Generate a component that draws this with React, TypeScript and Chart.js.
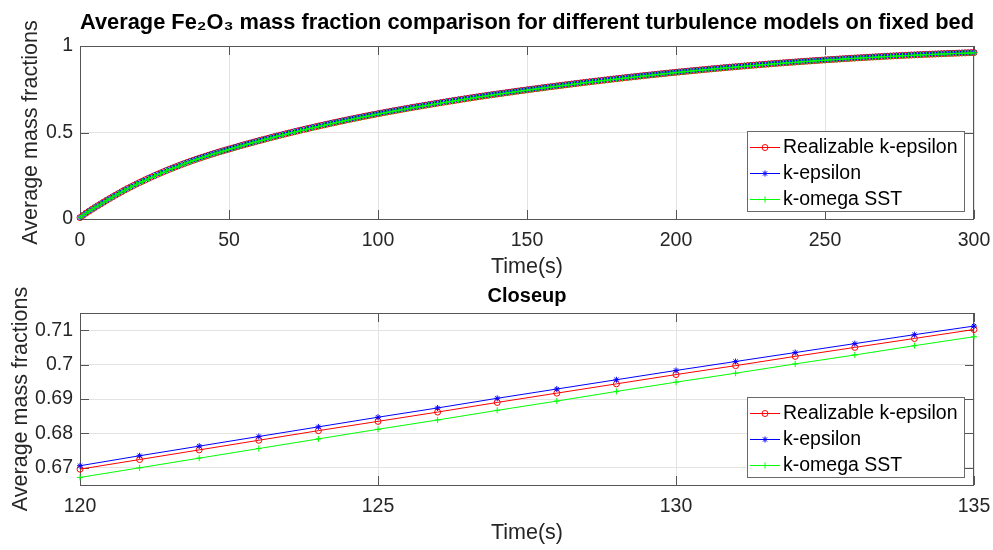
import React, { useEffect, useRef } from "react";
import { Chart, registerables } from "chart.js";

Chart.register(...registerables);

// ---------------- DATA ----------------
const TIME = [
  0, 1, 2, 3, 4, 5, 6, 7, 8, 9,
  10, 11, 12, 13, 14, 15, 16, 17, 18, 19,
  20, 21, 22, 23, 24, 25, 26, 27, 28, 29,
  30, 31, 32, 33, 34, 35, 36, 37, 38, 39,
  40, 41, 42, 43, 44, 45, 46, 47, 48, 49,
  50, 51, 52, 53, 54, 55, 56, 57, 58, 59,
  60, 61, 62, 63, 64, 65, 66, 67, 68, 69,
  70, 71, 72, 73, 74, 75, 76, 77, 78, 79,
  80, 81, 82, 83, 84, 85, 86, 87, 88, 89,
  90, 91, 92, 93, 94, 95, 96, 97, 98, 99,
  100, 101, 102, 103, 104, 105, 106, 107, 108, 109,
  110, 111, 112, 113, 114, 115, 116, 117, 118, 119,
  120, 121, 122, 123, 124, 125, 126, 127, 128, 129,
  130, 131, 132, 133, 134, 135, 136, 137, 138, 139,
  140, 141, 142, 143, 144, 145, 146, 147, 148, 149,
  150, 151, 152, 153, 154, 155, 156, 157, 158, 159,
  160, 161, 162, 163, 164, 165, 166, 167, 168, 169,
  170, 171, 172, 173, 174, 175, 176, 177, 178, 179,
  180, 181, 182, 183, 184, 185, 186, 187, 188, 189,
  190, 191, 192, 193, 194, 195, 196, 197, 198, 199,
  200, 201, 202, 203, 204, 205, 206, 207, 208, 209,
  210, 211, 212, 213, 214, 215, 216, 217, 218, 219,
  220, 221, 222, 223, 224, 225, 226, 227, 228, 229,
  230, 231, 232, 233, 234, 235, 236, 237, 238, 239,
  240, 241, 242, 243, 244, 245, 246, 247, 248, 249,
  250, 251, 252, 253, 254, 255, 256, 257, 258, 259,
  260, 261, 262, 263, 264, 265, 266, 267, 268, 269,
  270, 271, 272, 273, 274, 275, 276, 277, 278, 279,
  280, 281, 282, 283, 284, 285, 286, 287, 288, 289,
  290, 291, 292, 293, 294, 295, 296, 297, 298, 299,
  300,
];

const REALIZABLE_KE = [
  0.0080, 0.0212, 0.0335, 0.0450, 0.0560, 0.0667, 0.0772, 0.0878, 0.0983, 0.1087,
  0.1189, 0.1289, 0.1387, 0.1484, 0.1580, 0.1674, 0.1765, 0.1854, 0.1941, 0.2026,
  0.2109, 0.2189, 0.2270, 0.2350, 0.2429, 0.2507, 0.2583, 0.2657, 0.2730, 0.2802,
  0.2872, 0.2941, 0.3009, 0.3076, 0.3142, 0.3207, 0.3270, 0.3332, 0.3393, 0.3453,
  0.3512, 0.3569, 0.3625, 0.3680, 0.3734, 0.3787, 0.3839, 0.3891, 0.3942, 0.3992,
  0.4042, 0.4092, 0.4142, 0.4191, 0.4240, 0.4289, 0.4337, 0.4384, 0.4431, 0.4478,
  0.4525, 0.4569, 0.4614, 0.4659, 0.4704, 0.4749, 0.4793, 0.4836, 0.4879, 0.4922,
  0.4965, 0.5007, 0.5049, 0.5090, 0.5131, 0.5172, 0.5212, 0.5252, 0.5292, 0.5331,
  0.5370, 0.5408, 0.5446, 0.5484, 0.5522, 0.5560, 0.5597, 0.5634, 0.5671, 0.5707,
  0.5743, 0.5778, 0.5813, 0.5848, 0.5883, 0.5918, 0.5952, 0.5986, 0.6020, 0.6053,
  0.6086, 0.6119, 0.6151, 0.6183, 0.6215, 0.6247, 0.6278, 0.6309, 0.6340, 0.6371,
  0.6402, 0.6432, 0.6462, 0.6492, 0.6522, 0.6551, 0.6580, 0.6609, 0.6638, 0.6667,
  0.6696, 0.6724, 0.6752, 0.6780, 0.6808, 0.6835, 0.6862, 0.6890, 0.6917, 0.6944,
  0.6971, 0.6997, 0.7024, 0.7050, 0.7076, 0.7102, 0.7127, 0.7152, 0.7177, 0.7202,
  0.7226, 0.7251, 0.7275, 0.7299, 0.7323, 0.7347, 0.7371, 0.7395, 0.7419, 0.7442,
  0.7465, 0.7488, 0.7511, 0.7534, 0.7557, 0.7580, 0.7603, 0.7626, 0.7648, 0.7670,
  0.7692, 0.7714, 0.7736, 0.7758, 0.7780, 0.7801, 0.7823, 0.7844, 0.7865, 0.7886,
  0.7907, 0.7928, 0.7949, 0.7970, 0.7990, 0.8010, 0.8030, 0.8050, 0.8070, 0.8090,
  0.8110, 0.8130, 0.8150, 0.8169, 0.8188, 0.8207, 0.8226, 0.8245, 0.8264, 0.8283,
  0.8301, 0.8320, 0.8338, 0.8356, 0.8374, 0.8392, 0.8410, 0.8428, 0.8446, 0.8463,
  0.8480, 0.8497, 0.8514, 0.8531, 0.8548, 0.8565, 0.8582, 0.8599, 0.8615, 0.8631,
  0.8647, 0.8663, 0.8679, 0.8695, 0.8711, 0.8726, 0.8742, 0.8757, 0.8772, 0.8787,
  0.8802, 0.8817, 0.8832, 0.8847, 0.8861, 0.8875, 0.8889, 0.8903, 0.8917, 0.8931,
  0.8945, 0.8959, 0.8973, 0.8986, 0.8999, 0.9012, 0.9025, 0.9038, 0.9051, 0.9064,
  0.9076, 0.9089, 0.9101, 0.9113, 0.9125, 0.9137, 0.9149, 0.9161, 0.9173, 0.9184,
  0.9195, 0.9207, 0.9218, 0.9229, 0.9240, 0.9251, 0.9262, 0.9273, 0.9284, 0.9294,
  0.9304, 0.9314, 0.9324, 0.9334, 0.9344, 0.9354, 0.9364, 0.9374, 0.9383, 0.9392,
  0.9401, 0.9410, 0.9419, 0.9428, 0.9437, 0.9445, 0.9454, 0.9462, 0.9470, 0.9478,
  0.9486, 0.9494, 0.9502, 0.9510, 0.9517, 0.9524, 0.9531, 0.9538, 0.9545, 0.9552,
  0.9559, 0.9566, 0.9573, 0.9579, 0.9585, 0.9591, 0.9597, 0.9603, 0.9609, 0.9615,
  0.9620,
];

const K_EPSILON = [
  0.0080, 0.0215, 0.0338, 0.0453, 0.0563, 0.0670, 0.0778, 0.0884, 0.0989, 0.1093,
  0.1195, 0.1295, 0.1393, 0.1490, 0.1586, 0.1680, 0.1771, 0.1860, 0.1947, 0.2032,
  0.2115, 0.2197, 0.2278, 0.2358, 0.2437, 0.2515, 0.2591, 0.2665, 0.2738, 0.2810,
  0.2880, 0.2949, 0.3017, 0.3084, 0.3150, 0.3215, 0.3278, 0.3340, 0.3401, 0.3461,
  0.3520, 0.3577, 0.3633, 0.3688, 0.3742, 0.3795, 0.3847, 0.3899, 0.3950, 0.4000,
  0.4050, 0.4100, 0.4150, 0.4199, 0.4248, 0.4297, 0.4345, 0.4392, 0.4439, 0.4486,
  0.4533, 0.4579, 0.4624, 0.4669, 0.4714, 0.4759, 0.4803, 0.4846, 0.4889, 0.4932,
  0.4975, 0.5017, 0.5059, 0.5100, 0.5141, 0.5182, 0.5222, 0.5262, 0.5302, 0.5341,
  0.5380, 0.5418, 0.5456, 0.5494, 0.5532, 0.5570, 0.5607, 0.5644, 0.5681, 0.5717,
  0.5753, 0.5788, 0.5823, 0.5858, 0.5893, 0.5928, 0.5962, 0.5996, 0.6030, 0.6063,
  0.6096, 0.6129, 0.6161, 0.6193, 0.6225, 0.6257, 0.6288, 0.6319, 0.6350, 0.6381,
  0.6412, 0.6442, 0.6472, 0.6502, 0.6532, 0.6561, 0.6590, 0.6619, 0.6648, 0.6677,
  0.6706, 0.6735, 0.6763, 0.6791, 0.6819, 0.6847, 0.6874, 0.6902, 0.6929, 0.6956,
  0.6983, 0.7009, 0.7035, 0.7061, 0.7087, 0.7112, 0.7137, 0.7162, 0.7187, 0.7212,
  0.7236, 0.7261, 0.7285, 0.7309, 0.7333, 0.7357, 0.7381, 0.7405, 0.7429, 0.7452,
  0.7475, 0.7498, 0.7521, 0.7544, 0.7567, 0.7590, 0.7613, 0.7636, 0.7658, 0.7680,
  0.7702, 0.7724, 0.7746, 0.7768, 0.7790, 0.7811, 0.7833, 0.7854, 0.7875, 0.7896,
  0.7917, 0.7938, 0.7959, 0.7980, 0.8000, 0.8020, 0.8040, 0.8060, 0.8080, 0.8100,
  0.8120, 0.8140, 0.8160, 0.8179, 0.8198, 0.8217, 0.8236, 0.8255, 0.8274, 0.8293,
  0.8311, 0.8330, 0.8348, 0.8366, 0.8384, 0.8402, 0.8420, 0.8438, 0.8456, 0.8473,
  0.8490, 0.8507, 0.8524, 0.8541, 0.8558, 0.8575, 0.8592, 0.8609, 0.8625, 0.8641,
  0.8657, 0.8673, 0.8689, 0.8705, 0.8721, 0.8736, 0.8752, 0.8767, 0.8782, 0.8797,
  0.8812, 0.8827, 0.8842, 0.8857, 0.8871, 0.8885, 0.8899, 0.8913, 0.8927, 0.8941,
  0.8955, 0.8969, 0.8983, 0.8996, 0.9009, 0.9022, 0.9035, 0.9048, 0.9061, 0.9074,
  0.9086, 0.9099, 0.9111, 0.9123, 0.9135, 0.9147, 0.9159, 0.9171, 0.9183, 0.9194,
  0.9205, 0.9217, 0.9228, 0.9239, 0.9250, 0.9261, 0.9272, 0.9283, 0.9294, 0.9304,
  0.9314, 0.9324, 0.9334, 0.9344, 0.9354, 0.9364, 0.9374, 0.9384, 0.9393, 0.9402,
  0.9411, 0.9420, 0.9429, 0.9438, 0.9447, 0.9455, 0.9464, 0.9472, 0.9480, 0.9488,
  0.9496, 0.9504, 0.9512, 0.9520, 0.9527, 0.9534, 0.9541, 0.9548, 0.9555, 0.9562,
  0.9569, 0.9576, 0.9583, 0.9589, 0.9595, 0.9601, 0.9607, 0.9613, 0.9619, 0.9625,
  0.9630,
];

const K_OMEGA_SST = [
  0.0080, 0.0205, 0.0328, 0.0443, 0.0553, 0.0660, 0.0758, 0.0864, 0.0969, 0.1073,
  0.1175, 0.1275, 0.1373, 0.1470, 0.1566, 0.1660, 0.1751, 0.1840, 0.1927, 0.2012,
  0.2095, 0.2169, 0.2250, 0.2330, 0.2409, 0.2487, 0.2563, 0.2637, 0.2710, 0.2782,
  0.2852, 0.2921, 0.2989, 0.3056, 0.3122, 0.3187, 0.3250, 0.3312, 0.3373, 0.3433,
  0.3492, 0.3549, 0.3605, 0.3660, 0.3714, 0.3767, 0.3819, 0.3871, 0.3922, 0.3972,
  0.4022, 0.4072, 0.4122, 0.4171, 0.4220, 0.4269, 0.4317, 0.4364, 0.4411, 0.4458,
  0.4505, 0.4546, 0.4591, 0.4636, 0.4681, 0.4726, 0.4770, 0.4813, 0.4856, 0.4899,
  0.4942, 0.4984, 0.5026, 0.5067, 0.5108, 0.5149, 0.5189, 0.5229, 0.5269, 0.5308,
  0.5347, 0.5385, 0.5423, 0.5461, 0.5499, 0.5537, 0.5574, 0.5611, 0.5648, 0.5684,
  0.5720, 0.5755, 0.5790, 0.5825, 0.5860, 0.5895, 0.5929, 0.5963, 0.5997, 0.6030,
  0.6063, 0.6096, 0.6128, 0.6160, 0.6192, 0.6224, 0.6255, 0.6286, 0.6317, 0.6348,
  0.6379, 0.6409, 0.6439, 0.6469, 0.6499, 0.6528, 0.6557, 0.6586, 0.6615, 0.6644,
  0.6672, 0.6700, 0.6728, 0.6756, 0.6784, 0.6812, 0.6839, 0.6867, 0.6894, 0.6922,
  0.6949, 0.6975, 0.7002, 0.7028, 0.7055, 0.7081, 0.7106, 0.7131, 0.7156, 0.7181,
  0.7205, 0.7230, 0.7254, 0.7278, 0.7302, 0.7326, 0.7350, 0.7374, 0.7398, 0.7421,
  0.7445, 0.7468, 0.7491, 0.7514, 0.7537, 0.7560, 0.7583, 0.7606, 0.7628, 0.7650,
  0.7672, 0.7694, 0.7716, 0.7738, 0.7760, 0.7781, 0.7803, 0.7824, 0.7845, 0.7866,
  0.7887, 0.7908, 0.7929, 0.7950, 0.7970, 0.7990, 0.8010, 0.8030, 0.8050, 0.8070,
  0.8090, 0.8110, 0.8130, 0.8149, 0.8168, 0.8187, 0.8206, 0.8225, 0.8244, 0.8263,
  0.8281, 0.8300, 0.8318, 0.8336, 0.8354, 0.8372, 0.8390, 0.8408, 0.8426, 0.8443,
  0.8460, 0.8480, 0.8497, 0.8514, 0.8531, 0.8548, 0.8565, 0.8582, 0.8598, 0.8614,
  0.8630, 0.8646, 0.8662, 0.8678, 0.8694, 0.8709, 0.8725, 0.8740, 0.8755, 0.8770,
  0.8785, 0.8800, 0.8815, 0.8830, 0.8844, 0.8858, 0.8872, 0.8886, 0.8900, 0.8914,
  0.8928, 0.8942, 0.8956, 0.8969, 0.8982, 0.8995, 0.9008, 0.9021, 0.9034, 0.9047,
  0.9059, 0.9072, 0.9084, 0.9096, 0.9108, 0.9120, 0.9132, 0.9144, 0.9156, 0.9167,
  0.9178, 0.9190, 0.9201, 0.9212, 0.9223, 0.9234, 0.9245, 0.9256, 0.9267, 0.9277,
  0.9287, 0.9297, 0.9307, 0.9317, 0.9327, 0.9337, 0.9347, 0.9357, 0.9366, 0.9375,
  0.9384, 0.9393, 0.9402, 0.9411, 0.9420, 0.9428, 0.9437, 0.9445, 0.9453, 0.9461,
  0.9469, 0.9477, 0.9485, 0.9493, 0.9500, 0.9507, 0.9514, 0.9521, 0.9528, 0.9535,
  0.9542, 0.9549, 0.9556, 0.9562, 0.9568, 0.9574, 0.9580, 0.9586, 0.9592, 0.9598,
  0.9603,
];

const SERIES_LABELS = ["Realizable k-epsilon", "k-epsilon", "k-omega SST"];

const TOP_X_TICKS = [0, 50, 100, 150, 200, 250, 300];
const TOP_X_LABELS = ["0", "50", "100", "150", "200", "250", "300"];
const TOP_Y_TICKS = [0, 0.5, 1];
const TOP_Y_LABELS = ["0", "0.5", "1"];

const CLOSE_X_TICKS = [120, 125, 130, 135];
const CLOSE_X_LABELS = ["120", "125", "130", "135"];
const CLOSE_Y_TICKS = [0.67, 0.68, 0.69, 0.7, 0.71];
const CLOSE_Y_LABELS = ["0.67", "0.68", "0.69", "0.7", "0.71"];

const TOP_TITLE = "Average Fe\u2082O\u2083 mass fraction comparison for different turbulence models on fixed bed";
const CLOSE_TITLE = "Closeup";
const X_TITLE = "Time(s)";
const Y_TITLE = "Average mass fractions";

// ---------------- STYLE ----------------
const FONT = "'Liberation Sans', Arial, Helvetica, sans-serif";
const TEXT_COLOR = "#262626";
const AXIS_COLOR = "#555555";
const GRID_COLOR = "#e3e3e3";
const TICK_LEN = 9;
const COLORS = ["#ff0000", "#0000ff", "#00ff00"];
const STYLES = ["circle", "star", "cross"];
const ORDERS = [2, 1, 0];

function drawMarker(ctx: CanvasRenderingContext2D, style: string, x: number, y: number, r: number, color: string) {
  ctx.save();
  ctx.strokeStyle = color;
  ctx.lineWidth = 1;
  ctx.beginPath();
  if (style === "circle") {
    ctx.arc(x, y, r, 0, Math.PI * 2);
  } else if (style === "cross") {
    ctx.moveTo(x - r, y);
    ctx.lineTo(x + r, y);
    ctx.moveTo(x, y - r);
    ctx.lineTo(x, y + r);
  } else {
    const d = r * Math.SQRT1_2;
    ctx.moveTo(x - r, y);
    ctx.lineTo(x + r, y);
    ctx.moveTo(x, y - r);
    ctx.lineTo(x, y + r);
    ctx.moveTo(x - d, y - d);
    ctx.lineTo(x + d, y + d);
    ctx.moveTo(x - d, y + d);
    ctx.lineTo(x + d, y - d);
  }
  ctx.stroke();
  ctx.restore();
}

const matlabAxes = {
  id: "matlabAxes",
  beforeDatasetsDraw(chart: any) {
    const { ctx, chartArea } = chart;
    const { left, right, top, bottom } = chartArea;
    const xs = chart.scales.x;
    const ys = chart.scales.y;
    ctx.save();
    ctx.strokeStyle = AXIS_COLOR;
    ctx.lineWidth = 1;
    ctx.beginPath();
    for (const t of xs.ticks) {
      const px = Math.round(xs.getPixelForValue(t.value)) + 0.5;
      ctx.moveTo(px, bottom);
      ctx.lineTo(px, bottom - TICK_LEN);
      ctx.moveTo(px, top);
      ctx.lineTo(px, top + TICK_LEN);
    }
    for (const t of ys.ticks) {
      const py = Math.round(ys.getPixelForValue(t.value)) + 0.5;
      ctx.moveTo(left, py);
      ctx.lineTo(left + TICK_LEN, py);
      ctx.moveTo(right, py);
      ctx.lineTo(right - TICK_LEN, py);
    }
    ctx.stroke();
    ctx.strokeRect(Math.round(left) + 0.5, Math.round(top) + 0.5, Math.round(right - left) - 1, Math.round(bottom - top));
    ctx.restore();
  },
  afterDraw(chart: any) {
    const { ctx, chartArea } = chart;
    const w = 217;
    const h = 80;
    const bx = Math.round(chartArea.right - 10 - w);
    const by = Math.round(chartArea.bottom - 8 - h);
    ctx.save();
    ctx.fillStyle = "#ffffff";
    ctx.fillRect(bx, by, w, h);
    ctx.strokeStyle = "#6a6a6a";
    ctx.lineWidth = 1;
    ctx.strokeRect(bx + 0.5, by + 0.5, w, h);
    ctx.font = `19.5px ${FONT}`;
    ctx.textBaseline = "middle";
    ctx.textAlign = "left";
    chart.data.datasets.forEach((ds: any, i: number) => {
      const cy = by + 16 + i * 26;
      ctx.strokeStyle = ds.borderColor;
      ctx.lineWidth = 1;
      ctx.beginPath();
      ctx.moveTo(bx + 3, cy + 0.5);
      ctx.lineTo(bx + 33, cy + 0.5);
      ctx.stroke();
      drawMarker(ctx, ds.pointStyle, bx + 18, cy + 0.5, 3, ds.borderColor);
      ctx.fillStyle = "#000000";
      ctx.fillText(ds.label, bx + 36, cy + 1);
    });
    ctx.restore();
  },
};

function makeDatasets(xmin: number, xmax: number) {
  const series = [REALIZABLE_KE, K_EPSILON, K_OMEGA_SST];
  return series.map((vals, i) => ({
    label: SERIES_LABELS[i],
    data: TIME.map((t, j) => ({ x: t, y: vals[j] })).filter((p) => p.x >= xmin && p.x <= xmax),
    borderColor: COLORS[i],
    backgroundColor: "rgba(0,0,0,0)",
    pointBackgroundColor: "rgba(0,0,0,0)",
    pointBorderColor: COLORS[i],
    pointStyle: STYLES[i],
    pointRadius: 3,
    pointBorderWidth: 1,
    borderWidth: 1,
    tension: 0,
    order: ORDERS[i],
    clip: false as any,
  }));
}

function makeConfig(opts: {
  title: string;
  titleSize: number;
  titlePadBottom: number;
  padTop: number;
  xmin: number;
  xmax: number;
  ymin: number;
  ymax: number;
  xTicks: number[];
  xLabels: string[];
  yTicks: number[];
  yLabels: string[];
  xAxisHeight: number;
  xTitlePadBottom: number;
  yTitlePadTop: number;
}): any {
  return {
    type: "line",
    data: { datasets: makeDatasets(opts.xmin, opts.xmax) },
    options: {
      animation: false,
      responsive: false,
      devicePixelRatio: 1,
      events: [],
      layout: { padding: { left: 8, right: 19, top: opts.padTop, bottom: 0 } },
      plugins: {
        legend: { display: false },
        tooltip: { enabled: false },
        title: {
          display: true,
          fullSize: false,
          text: opts.title,
          color: "#000000",
          font: { family: FONT, size: opts.titleSize, weight: "bold", lineHeight: 1.2 },
          padding: { top: 0, bottom: opts.titlePadBottom },
        },
      },
      scales: {
        x: {
          type: "linear",
          min: opts.xmin,
          max: opts.xmax,
          afterBuildTicks: (axis: any) => {
            axis.ticks = opts.xTicks.map((v) => ({ value: v }));
          },
          afterFit: (axis: any) => {
            axis.height = opts.xAxisHeight;
            axis.paddingLeft = 0;
            axis.paddingRight = 0;
          },
          ticks: {
            autoSkip: false,
            maxRotation: 0,
            padding: 10,
            color: TEXT_COLOR,
            font: { family: FONT, size: 19.5, lineHeight: 1.2 },
            callback: (_v: any, i: number) => opts.xLabels[i],
          },
          grid: { color: GRID_COLOR, drawTicks: false, lineWidth: 1 },
          border: { display: false },
          title: {
            display: true,
            text: X_TITLE,
            color: TEXT_COLOR,
            font: { family: FONT, size: 21.5, lineHeight: 1.2 },
            padding: { top: 0, bottom: opts.xTitlePadBottom },
          },
        },
        y: {
          type: "linear",
          min: opts.ymin,
          max: opts.ymax,
          afterBuildTicks: (axis: any) => {
            axis.ticks = opts.yTicks.map((v) => ({ value: v }));
          },
          afterFit: (axis: any) => {
            axis.width = 72;
            axis.paddingTop = 0;
            axis.paddingBottom = 0;
          },
          ticks: {
            autoSkip: false,
            padding: 7,
            color: TEXT_COLOR,
            font: { family: FONT, size: 19.5, lineHeight: 1.2 },
            callback: (_v: any, i: number) => opts.yLabels[i],
          },
          grid: { color: GRID_COLOR, drawTicks: false, lineWidth: 1 },
          border: { display: false },
          title: {
            display: true,
            text: Y_TITLE,
            color: TEXT_COLOR,
            font: { family: FONT, size: 21.5, lineHeight: 1.2 },
            padding: { top: opts.yTitlePadTop, bottom: 0 },
          },
        },
      },
    },
    plugins: [matlabAxes],
  };
}

export default function App() {
  const topRef = useRef<HTMLCanvasElement>(null);
  const botRef = useRef<HTMLCanvasElement>(null);

  useEffect(() => {
    const c1 = new Chart(
      topRef.current as HTMLCanvasElement,
      makeConfig({
        title: TOP_TITLE,
        titleSize: 22,
        titlePadBottom: 9.6,
        padTop: 10,
        xmin: 0,
        xmax: 300,
        ymin: 0,
        ymax: 1,
        xTicks: TOP_X_TICKS,
        xLabels: TOP_X_LABELS,
        yTicks: TOP_Y_TICKS,
        yLabels: TOP_Y_LABELS,
        xAxisHeight: 63,
        xTitlePadBottom: 2,
        yTitlePadTop: 10,
      })
    );
    const c2 = new Chart(
      botRef.current as HTMLCanvasElement,
      makeConfig({
        title: CLOSE_TITLE,
        titleSize: 20,
        titlePadBottom: 5,
        padTop: 2,
        xmin: 120,
        xmax: 135,
        ymin: 0.665,
        ymax: 0.715,
        xTicks: CLOSE_X_TICKS,
        xLabels: CLOSE_X_LABELS,
        yTicks: CLOSE_Y_TICKS,
        yLabels: CLOSE_Y_LABELS,
        xAxisHeight: 65,
        xTitlePadBottom: 4,
        yTitlePadTop: 0,
      })
    );
    return () => {
      c1.destroy();
      c2.destroy();
    };
  }, []);

  return (
    <div style={{ position: "absolute", left: 0, top: 0, width: 993, height: 550, background: "#ffffff" }}>
      <canvas
        ref={topRef}
        width={993}
        height={282}
        style={{ position: "absolute", left: 0, top: 0, width: 993, height: 282 }}
      />
      <canvas
        ref={botRef}
        width={993}
        height={268}
        style={{ position: "absolute", left: 0, top: 282, width: 993, height: 268 }}
      />
    </div>
  );
}
